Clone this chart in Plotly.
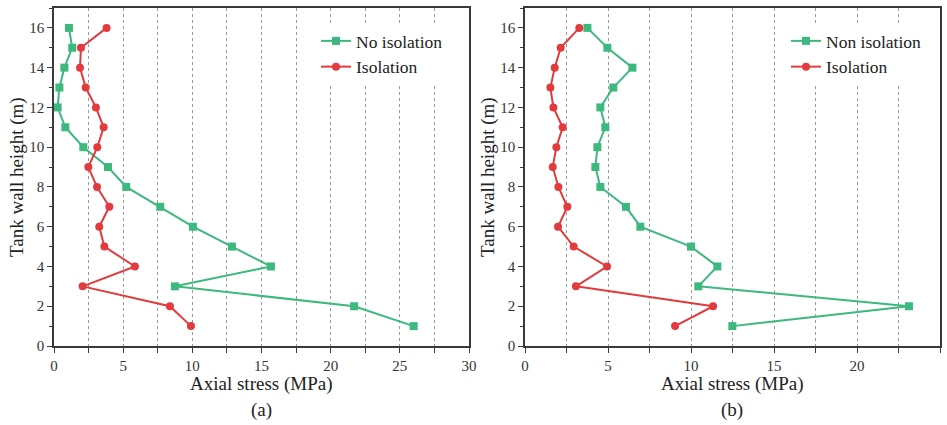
import plotly.graph_objects as go
from plotly.subplots import make_subplots

heights = [16, 15, 14, 13, 12, 11, 10, 9, 8, 7, 6, 5, 4, 3, 2, 1]

a_no_isolation = [1.08, 1.32, 0.75, 0.39, 0.26, 0.82, 2.12, 3.9, 5.22, 7.68, 10.04, 12.86, 15.68, 8.74, 21.7, 26.0]
a_isolation = [3.8, 1.95, 1.88, 2.29, 3.03, 3.59, 3.13, 2.48, 3.11, 4.0, 3.27, 3.64, 5.85, 2.07, 8.38, 9.9]

b_non_isolation = [3.76, 4.96, 6.47, 5.32, 4.54, 4.84, 4.36, 4.24, 4.54, 6.08, 6.95, 10.0, 11.59, 10.44, 23.13, 12.49]
b_isolation = [3.27, 2.15, 1.79, 1.53, 1.71, 2.27, 1.89, 1.67, 2.01, 2.55, 1.99, 2.93, 4.94, 3.07, 11.33, 9.04]

GREEN = "#3DB87E"
RED = "#E23B3D"
FONT = "'Times New Roman', 'Liberation Serif', Tinos, 'DejaVu Serif', serif"
AX = "#3a3a3a"

W, H = 947, 425

fig = make_subplots(rows=1, cols=2)

def add(x, name, color, symbol, col, legend):
    fig.add_trace(go.Scatter(
        x=x, y=heights, mode="lines+markers", name=name,
        line=dict(color=color, width=2),
        marker=dict(symbol=symbol, size=8, color=color),
        legend=legend,
    ), row=1, col=col)

add(a_no_isolation, "No isolation", GREEN, "square", 1, "legend")
add(a_isolation, "Isolation", RED, "circle", 1, "legend")
add(b_non_isolation, "Non isolation", GREEN, "square", 2, "legend2")
add(b_isolation, "Isolation", RED, "circle", 2, "legend2")

def px_x(p):
    return p / W

def px_y(p):
    return 1 - p / H

xcommon = dict(
    automargin=False,
    showline=True, linecolor=AX, linewidth=1.5, mirror=True,
    ticks="outside", ticklen=5, tickwidth=1.2, tickcolor=AX,
    showgrid=True, gridcolor="#9a9a9a", griddash="dot", gridwidth=1,
    zeroline=False, dtick=5, tick0=0,
    minor=dict(dtick=2.5, ticks="outside", ticklen=5, tickwidth=1.2, tickcolor=AX,
               showgrid=True, gridcolor="#9a9a9a", griddash="dot", gridwidth=1),
    tickfont=dict(family=FONT, size=15, color="#333"),
)
ycommon = dict(
    automargin=False,
    showline=True, linecolor=AX, linewidth=1.5, mirror=True,
    ticks="outside", ticklen=5, tickwidth=1.2, tickcolor=AX,
    showgrid=False, zeroline=False, range=[0, 17], dtick=2, tick0=0,
    minor=dict(dtick=1, ticks="outside", ticklen=3, tickwidth=1.2, tickcolor=AX, showgrid=False),
    tickfont=dict(family=FONT, size=15, color="#333"),
)

fig.update_xaxes(**xcommon)
fig.update_yaxes(**ycommon)
fig.update_xaxes(range=[0, 30], domain=[px_x(54), px_x(469)], row=1, col=1)
fig.update_xaxes(range=[0, 25], domain=[px_x(525), px_x(940)], row=1, col=2)
fig.update_yaxes(domain=[px_y(346), px_y(8)])

ann = []
for cx, lab in [(261, "(a)"), (732, "(b)")]:
    ann.append(dict(x=px_x(cx), y=px_y(384), xref="paper", yref="paper",
                    xanchor="center", yanchor="middle",
                    text="Axial stress (MPa)", showarrow=False,
                    font=dict(family=FONT, size=19, color="#222")))
    ann.append(dict(x=px_x(cx), y=px_y(410), xref="paper", yref="paper",
                    xanchor="center", yanchor="middle",
                    text=lab, showarrow=False,
                    font=dict(family=FONT, size=19, color="#222")))
for cx in [17, 488]:
    ann.append(dict(x=px_x(cx), y=px_y(177), xref="paper", yref="paper",
                    xanchor="center", yanchor="middle",
                    text="Tank wall height (m)", showarrow=False, textangle=-90,
                    font=dict(family=FONT, size=19, color="#222")))

legend_style = dict(bgcolor="white", borderwidth=0, xanchor="left", yanchor="top",
                    font=dict(family=FONT, size=17.5, color="#222"),
                    tracegroupgap=0, itemwidth=30)

fig.update_layout(
    width=W, height=H,
    font=dict(family=FONT),
    margin=dict(l=0, r=0, t=0, b=0, autoexpand=False),
    paper_bgcolor="white", plot_bgcolor="white",
    annotations=ann,
    legend=dict(x=px_x(316), y=px_y(23), **legend_style),
    legend2=dict(x=px_x(786), y=px_y(23), **legend_style),
)

fig.write_html("out.html", config={"displayModeBar": False},
               post_script="document.body.style.margin='0';document.body.style.overflow='hidden';")
